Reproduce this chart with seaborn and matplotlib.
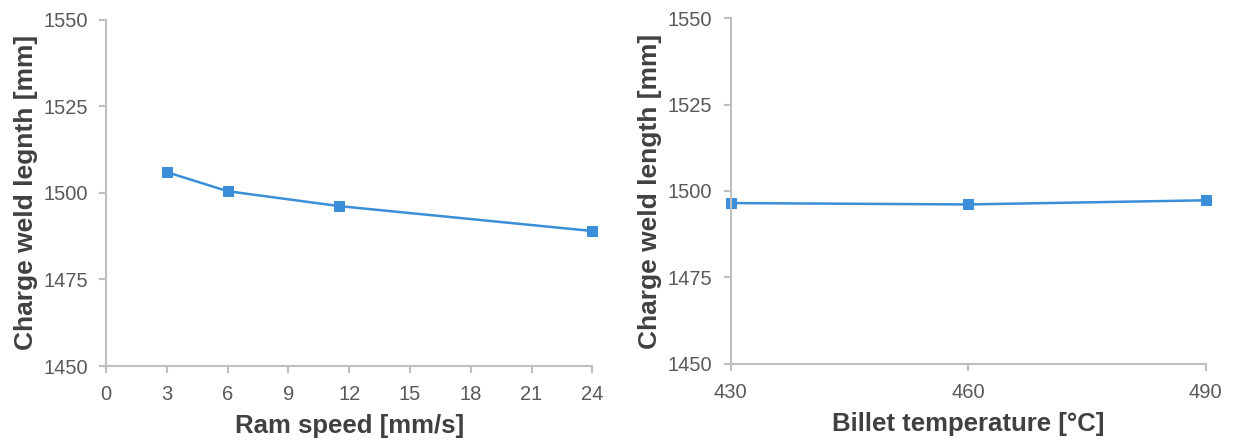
import matplotlib
matplotlib.use("Agg")
import matplotlib.pyplot as plt
import seaborn as sns
import pandas as pd

sns.set_theme(style="white")
plt.rcParams['font.family'] = ['Liberation Sans', 'DejaVu Sans']

ram_speed = [3, 6, 11.5, 24]
weld_len_speed = [1506.0, 1500.5, 1496.2, 1489.0]
billet_temp = [430, 460, 490]
weld_len_temp = [1496.5, 1496.1, 1497.3]

speed_ticks = [0, 3, 6, 9, 12, 15, 18, 21, 24]
temp_ticks = [430, 460, 490]
y_ticks = [1450, 1475, 1500, 1525, 1550]

line_color = "#3b8ed8"
spine_color = "#bfbfbf"
tick_color = "#595959"
label_color = "#404040"

fig = plt.figure(figsize=(12.34, 4.41), dpi=100)
ax1 = fig.add_axes([0.086, 0.170, 0.394, 0.785])
ax2 = fig.add_axes([0.592, 0.175, 0.385, 0.784])

df1 = pd.DataFrame({"x": ram_speed, "y": weld_len_speed})
df2 = pd.DataFrame({"x": billet_temp, "y": weld_len_temp})

for ax, df, xt, xl, ylab in [
    (ax1, df1, speed_ticks, "Ram speed [mm/s]", "Charge weld legnth [mm]"),
    (ax2, df2, temp_ticks, "Billet temperature [°C]", "Charge weld length [mm]"),
]:
    sns.lineplot(data=df, x="x", y="y", ax=ax, color=line_color, lw=1.8,
                 marker="s", markersize=7, markeredgecolor=line_color,
                 clip_on=False)
    ax.set_xlim(xt[0], xt[-1])
    ax.set_ylim(1450, 1550)
    ax.set_xticks(xt)
    ax.set_yticks(y_ticks)
    ax.set_xlabel(xl, fontsize=18.5, fontweight="bold", color=label_color, labelpad=7)
    ax.set_ylabel(ylab, fontsize=19, fontweight="bold", color=label_color, labelpad=4)
    for s in ["top", "right"]:
        ax.spines[s].set_visible(False)
    for s in ["left", "bottom"]:
        ax.spines[s].set_color(spine_color)
        ax.spines[s].set_linewidth(1.5)
    ax.tick_params(axis="both", direction="out", length=5, width=1.5,
                   color=spine_color, labelcolor=tick_color, labelsize=14.5,
                   bottom=True, left=True)
    ax.tick_params(axis="x", pad=9)
    ax.tick_params(axis="y", pad=8)
    ax.grid(False)
    ax.set_facecolor("white")

fig.savefig("out.png", dpi=100, facecolor="white")
